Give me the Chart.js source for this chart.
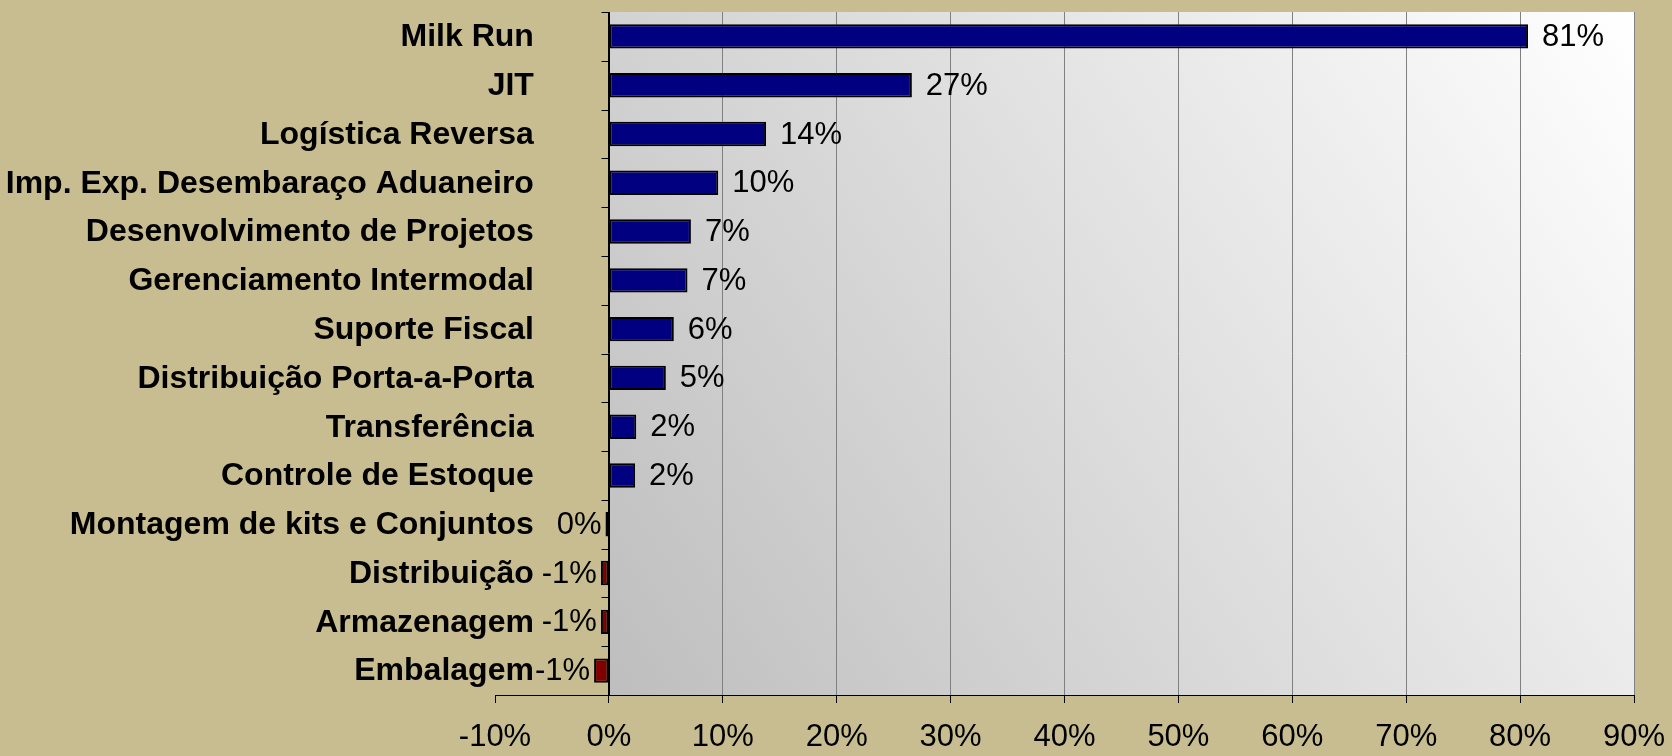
<!DOCTYPE html>
<html>
<head>
<meta charset="utf-8">
<script src="https://cdn.jsdelivr.net/npm/chart.js@4/dist/chart.umd.min.js"></script>
<style>
  html, body { margin: 0; padding: 0; background: #C7BD90; }
  #wrap { width: 1672px; height: 756px; }
</style>
</head>
<body>
<div id="wrap"><canvas id="c" width="1672" height="756"></canvas></div>
<script>
const categories = [
  'Milk Run', 'JIT', 'Logística Reversa', 'Imp. Exp. Desembaraço Aduaneiro',
  'Desenvolvimento de Projetos', 'Gerenciamento Intermodal', 'Suporte Fiscal',
  'Distribuição Porta-a-Porta', 'Transferência', 'Controle de Estoque',
  'Montagem de kits e Conjuntos', 'Distribuição', 'Armazenagem', 'Embalagem'
];
const values = [80.7, 26.6, 13.8, 9.6, 7.2, 6.9, 5.7, 5.0, 2.4, 2.3, -0.3, -0.7, -0.7, -1.3];
const xMin = -10;
const xMax = 90;
const xStep = 10;

const FONT = '"Liberation Sans", Arial, sans-serif';
const BG = '#C7BD90';

const decorPlugin = {
  id: 'decor',
  beforeDraw(chart) {
    const { ctx, chartArea: a, scales: { x } } = chart;
    ctx.save();
    ctx.fillStyle = BG;
    ctx.fillRect(0, 0, chart.width, chart.height);
    const x0 = x.getPixelForValue(0);
    const x1 = a.right;
    const g = ctx.createLinearGradient(x0, a.bottom, x1, a.top);
    g.addColorStop(0, '#BEBEBE');
    g.addColorStop(1, '#FFFFFF');
    ctx.fillStyle = g;
    ctx.fillRect(x0, a.top, x1 - x0, a.bottom - a.top);
    ctx.restore();
  },
  beforeDatasetsDraw(chart) {
    const { ctx, chartArea: a, scales: { x, y } } = chart;
    const x0 = Math.round(x.getPixelForValue(0)) + 0.5;
    ctx.save();
    ctx.strokeStyle = '#000';
    ctx.lineWidth = 1;
    ctx.beginPath();
    ctx.moveTo(x0, a.top);
    ctx.lineTo(x0, a.bottom);
    const n = categories.length;
    const band = (a.bottom - a.top) / n;
    for (let k = 0; k < n; k++) {
      const yy = Math.round(a.top + k * band) + 0.5;
      ctx.moveTo(x0 - 8, yy);
      ctx.lineTo(x0, yy);
    }
    ctx.stroke();
    ctx.restore();
  },
  afterDatasetsDraw(chart) {
    const { ctx, scales: { x, y } } = chart;
    const meta = chart.getDatasetMeta(0);
    ctx.save();
    ctx.fillStyle = '#000';
    ctx.textBaseline = 'middle';
    // category labels
    ctx.font = 'bold 32px ' + FONT;
    ctx.textAlign = 'right';
    const labelX = x.getPixelForValue(0) - 75;
    categories.forEach((c, i) => {
      ctx.fillText(c, labelX, y.getPixelForValue(i) + 1);
    });
    // value labels
    ctx.font = '31px ' + FONT;
    meta.data.forEach((bar, i) => {
      const v = values[i];
      const txt = Math.round(v).toFixed(0) + '%';
      if (v > 0) {
        ctx.textAlign = 'left';
        ctx.fillText(txt, bar.x + 14, bar.y + 1);
      } else {
        ctx.textAlign = 'right';
        ctx.fillText(txt, bar.x - 4, bar.y + 1);
      }
    });
    ctx.restore();
  }
};

new Chart(document.getElementById('c'), {
  type: 'bar',
  data: {
    labels: categories,
    datasets: [{
      data: values,
      backgroundColor: values.map(v => v >= 0 ? '#000080' : '#800000'),
      borderColor: '#000',
      borderWidth: 2,
      borderSkipped: false,
      barPercentage: 0.5,
      categoryPercentage: 1.0
    }]
  },
  options: {
    indexAxis: 'y',
    responsive: false,
    animation: false,
    devicePixelRatio: 1,
    layout: { padding: { top: 12, right: 38, left: 0, bottom: 0 } },
    plugins: { legend: { display: false }, tooltip: { enabled: false } },
    scales: {
      x: {
        type: 'linear',
        min: xMin,
        max: xMax,
        ticks: {
          stepSize: xStep,
          color: '#000',
          font: { family: FONT, size: 31 },
          padding: 16,
          maxRotation: 0,
          callback: v => v + '%'
        },
        grid: {
          color: c => (c.tick && c.tick.value === xMin) ? 'rgba(0,0,0,0)' : (c.tick && c.tick.value === 0 ? '#000' : '#808080'),
          tickColor: '#000',
          tickLength: 8,
          lineWidth: 1
        },
        border: { display: true, color: '#000', width: 1 },
        afterFit: s => { s.height = 61; s.paddingLeft = 0; s.paddingRight = 0; }
      },
      y: {
        type: 'category',
        ticks: { display: false, autoSkip: false },
        grid: { display: false, drawTicks: false },
        border: { display: false },
        afterFit: s => { s.width = 495; }
      }
    }
  },
  plugins: [decorPlugin]
});
</script>
</body>
</html>
